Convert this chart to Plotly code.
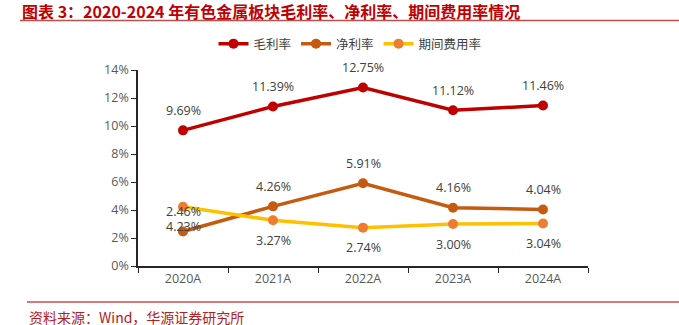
import plotly.graph_objects as go

categories = ["2020A", "2021A", "2022A", "2023A", "2024A"]
gross = [9.69, 11.39, 12.75, 11.12, 11.46]
net = [2.46, 4.26, 5.91, 4.16, 4.04]
expense = [4.23, 3.27, 2.74, 3.00, 3.04]
y_ticks = [0, 2, 4, 6, 8, 10, 12, 14]

W, H = 679, 325
L, R, T, B = 138, 588, 70, 266


def px(xp):
    return (xp - L) / (R - L)


def py(yp):
    return (B - yp) / (B - T)


fig = go.Figure()
series = [
    ("毛利率", gross, "#C00000", "#C00000", 20),
    ("净利率", net, "#C55A11", "#C55A11", 20),
    ("期间费用率", expense, "#FFC000", "#ED7D31", -20),
]
for name, vals, lc, mc, shift in series:
    fig.add_trace(go.Scatter(
        x=categories, y=vals, name=name, mode="lines+markers",
        line=dict(color=lc, width=3.5),
        marker=dict(color=mc, size=10),
        cliponaxis=False,
    ))
    for c, v in zip(categories, vals):
        fig.add_annotation(x=c, y=v, xref="x", yref="y", text=f"{v:.2f}%",
                           showarrow=False, yshift=shift,
                           font=dict(size=12.5, color="#404040",
                                     family="Open Sans, Noto Sans CJK SC"))

# title
fig.add_annotation(x=px(20), y=py(11), xref="paper", yref="paper",
                   xanchor="left", yanchor="middle", showarrow=False,
                   text="<b>图表 3：2020-2024 年有色金属板块毛利率、净利率、期间费用率情况</b>",
                   font=dict(size=16, color="#C00000",
                             family="Noto Sans CJK SC"))
# source
fig.add_annotation(x=px(27), y=py(317), xref="paper", yref="paper",
                   xanchor="left", yanchor="middle", showarrow=False,
                   text="资料来源：Wind，华源证券研究所",
                   font=dict(size=14, color="#B22222",
                             family="Noto Sans CJK SC"))
fig.add_shape(type="line", xref="paper", yref="paper",
              x0=px(20), x1=px(679), y0=py(20.5), y1=py(20.5),
              line=dict(color="#C0504D", width=1.5))
fig.add_shape(type="line", xref="paper", yref="paper",
              x0=px(27), x1=px(679), y0=py(302), y1=py(302),
              line=dict(color="#C0504D", width=1.5))

fig.update_layout(
    width=W, height=H,
    margin=dict(l=L, r=W - R, t=T, b=H - B, pad=0, autoexpand=False),
    paper_bgcolor="white", plot_bgcolor="white",
    font=dict(family="Open Sans, Noto Sans CJK SC", color="#595959", size=12),
    showlegend=True,
    legend=dict(orientation="h", xref="container", yref="container",
                x=350 / W, y=1 - 44 / H, xanchor="center", yanchor="middle",
                font=dict(size=12.5, color="#404040", family="Noto Sans CJK SC"),
                itemwidth=30, tracegroupgap=0),
    xaxis=dict(showline=True, linecolor="#262626", linewidth=1.5,
               ticks="outside", ticklen=5, tickcolor="#262626",
               tickson="boundaries", showgrid=False,
               tickfont=dict(size=12.5, color="#595959"),
               range=[-0.5, 4.5], fixedrange=True),
    yaxis=dict(range=[0, 14], tickvals=y_ticks,
               ticktext=[f"{v}%" for v in y_ticks],
               showline=True, linecolor="#262626", linewidth=1.5,
               ticks="outside", ticklen=5, tickcolor="#262626",
               showgrid=False, zeroline=False,
               tickfont=dict(size=12.5, color="#595959")),
)

fig.write_html("out.html")
